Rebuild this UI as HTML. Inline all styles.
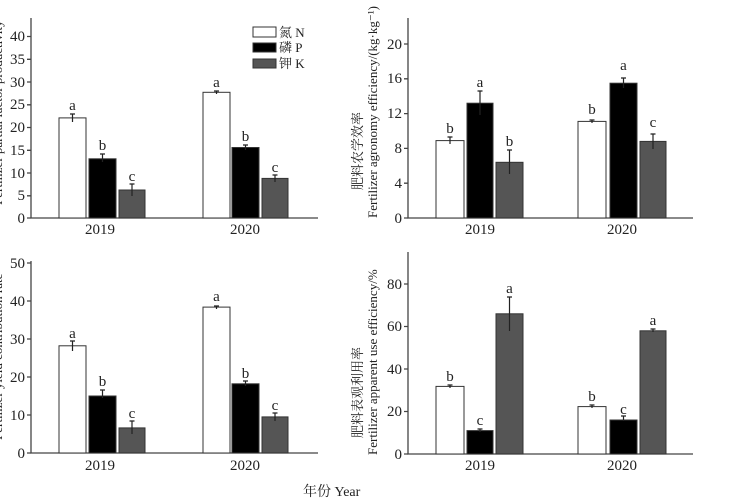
<!DOCTYPE html>
<html><head><meta charset="utf-8"><style>
html,body{margin:0;padding:0;background:#fff}
svg{display:block}
text{font-family:"Liberation Serif","Noto Serif CJK SC",serif;fill:#222}
</style></head><body>
<svg width="750" height="500" viewBox="0 0 750 500" xmlns="http://www.w3.org/2000/svg">
<g stroke="#444" stroke-width="1.3" fill="none">
<path d="M31 18 V218 H318"/>
<path d="M27 36.5h4M27 59.3h4M27 82h4M27 104.8h4M27 127.5h4M27 150.3h4M27 173h4M27 195.8h4M27 218h4"/>
<path d="M408 18 V218 H693"/>
<path d="M404 44h4M404 78.8h4M404 113.6h4M404 148.4h4M404 183.2h4M404 218h4"/>
<path d="M31 261 V453 H318"/>
<path d="M27 263h4M27 301h4M27 339h4M27 377h4M27 415h4M27 453h4"/>
<path d="M408 252 V454 H693"/>
<path d="M404 284h4M404 326.5h4M404 369h4M404 411.5h4M404 454h4"/>
</g>
<g font-size="15" text-anchor="end">
<text x="25" y="41">40</text><text x="25" y="64">35</text><text x="25" y="87">30</text><text x="25" y="109">25</text><text x="25" y="132">20</text><text x="25" y="155">15</text><text x="25" y="178">10</text><text x="25" y="200">5</text><text x="25" y="223">0</text>
<text x="402" y="49">20</text><text x="402" y="83">16</text><text x="402" y="118">12</text><text x="402" y="153">8</text><text x="402" y="188">4</text><text x="402" y="223">0</text>
<text x="25" y="268">50</text><text x="25" y="306">40</text><text x="25" y="344">30</text><text x="25" y="382">20</text><text x="25" y="420">10</text><text x="25" y="458">0</text>
<text x="402" y="289">80</text><text x="402" y="331">60</text><text x="402" y="374">40</text><text x="402" y="416">20</text><text x="402" y="459">0</text>
</g>
<g font-size="15" text-anchor="middle">
<text x="100" y="234">2019</text><text x="245" y="234">2020</text>
<text x="480" y="234">2019</text><text x="622" y="234">2020</text>
<text x="100" y="470">2019</text><text x="245" y="470">2020</text>
<text x="480" y="470">2019</text><text x="622" y="470">2020</text>
</g>
<text x="303" y="496" font-size="14">年份 Year</text>
<text transform="translate(362,190) rotate(-90)" font-size="13" fill="#666">肥料农学效率</text>
<text transform="translate(377,218) rotate(-90)" font-size="13">Fertilizer agronomy efficiency/(kg·kg⁻¹)</text>
<text transform="translate(362,438) rotate(-90)" font-size="13" fill="#666">肥料表观利用率</text>
<text transform="translate(377,455) rotate(-90)" font-size="13">Fertilizer apparent use efficiency/%</text>
<text transform="translate(2,205) rotate(-90)" font-size="13" fill="#aaa">Fertilizer partial factor productivity</text>
<text transform="translate(2,440) rotate(-90)" font-size="13" fill="#aaa">Fertilizer yield contribution rate</text>
<g stroke="#333" stroke-width="1">
<rect x="253" y="27" width="23" height="10" fill="#fff"/>
<rect x="253" y="43" width="23" height="9" fill="#000"/>
<rect x="253" y="59" width="23" height="9" fill="#555"/>
</g>
<g font-size="13"><text x="279" y="37">氮 N</text><text x="279" y="52">磷 P</text><text x="279" y="68">钾 K</text></g>
<g stroke="#333" stroke-width="1">
<rect x="59" y="117.9" width="27" height="100.1" fill="#fff"/>
<rect x="89" y="158.8" width="27" height="59.2" fill="#000"/>
<rect x="119" y="190" width="26" height="28" fill="#555"/>
<rect x="203" y="92.3" width="27" height="125.7" fill="#fff"/>
<rect x="232" y="147.5" width="27" height="70.5" fill="#000"/>
<rect x="262" y="178.4" width="26" height="39.6" fill="#555"/>
<rect x="436" y="140.6" width="28" height="77.4" fill="#fff"/>
<rect x="467" y="103.2" width="26" height="114.8" fill="#000"/>
<rect x="496" y="162.3" width="27" height="55.7" fill="#555"/>
<rect x="578" y="121.4" width="28" height="96.6" fill="#fff"/>
<rect x="610" y="83.2" width="27" height="134.8" fill="#000"/>
<rect x="640" y="141.4" width="26" height="76.6" fill="#555"/>
<rect x="59" y="345.8" width="27" height="107.2" fill="#fff"/>
<rect x="89" y="396" width="27" height="57" fill="#000"/>
<rect x="119" y="427.9" width="26" height="25.1" fill="#555"/>
<rect x="203" y="307.1" width="27" height="145.9" fill="#fff"/>
<rect x="232" y="383.8" width="27" height="69.2" fill="#000"/>
<rect x="262" y="416.9" width="26" height="36.1" fill="#555"/>
<rect x="436" y="386.4" width="28" height="67.6" fill="#fff"/>
<rect x="467" y="430.6" width="26" height="23.4" fill="#000"/>
<rect x="496" y="313.8" width="27" height="140.2" fill="#555"/>
<rect x="578" y="406.6" width="28" height="47.4" fill="#fff"/>
<rect x="610" y="420" width="27" height="34" fill="#000"/>
<rect x="640" y="330.8" width="26" height="123.2" fill="#555"/>
</g>
<g stroke="#222" stroke-width="1.2">
<path d="M72.5 114v8M70 114h5M102.5 154v8M100 154h5M132 184v12M129.5 184h5"/>
<path d="M216.5 91v3M214 91h5M245.5 145v5M243 145h5M275 175v7M272.5 175h5"/>
<path d="M450 137v7M447.5 137h5M480 91v24M477.5 91h5M509.5 150v24M507 150h5"/>
<path d="M592 120v3M589.5 120h5M623.5 78v10M621 78h5M653 134v15M650.5 134h5"/>
<path d="M72.5 341v10M70 341h5M102.5 390v8M100 390h5M132 421v13M129.5 421h5"/>
<path d="M216.5 306v3M214 306h5M245.5 381v5M243 381h5M275 413v8M272.5 413h5"/>
<path d="M450 385v3M447.5 385h5M480 429v3M477.5 429h5M509.5 297v34M507 297h5"/>
<path d="M592 405v3M589.5 405h5M623.5 416v5M621 416h5M653 329v3M650.5 329h5"/>
</g>
<g font-size="15" text-anchor="middle">
<text x="72.5" y="110">a</text><text x="102.5" y="150">b</text><text x="132" y="181">c</text>
<text x="216.5" y="87">a</text><text x="245.5" y="141">b</text><text x="275" y="172">c</text>
<text x="450" y="133">b</text><text x="480" y="87">a</text><text x="509.5" y="146">b</text>
<text x="592" y="114">b</text><text x="623.5" y="70">a</text><text x="653" y="127">c</text>
<text x="72.5" y="338">a</text><text x="102.5" y="386">b</text><text x="132" y="418">c</text>
<text x="216.5" y="301">a</text><text x="245.5" y="378">b</text><text x="275" y="410">c</text>
<text x="450" y="381">b</text><text x="480" y="425">c</text><text x="509.5" y="293">a</text>
<text x="592" y="401">b</text><text x="623.5" y="414">c</text><text x="653" y="325">a</text>
</g>
</svg>
</body></html>
